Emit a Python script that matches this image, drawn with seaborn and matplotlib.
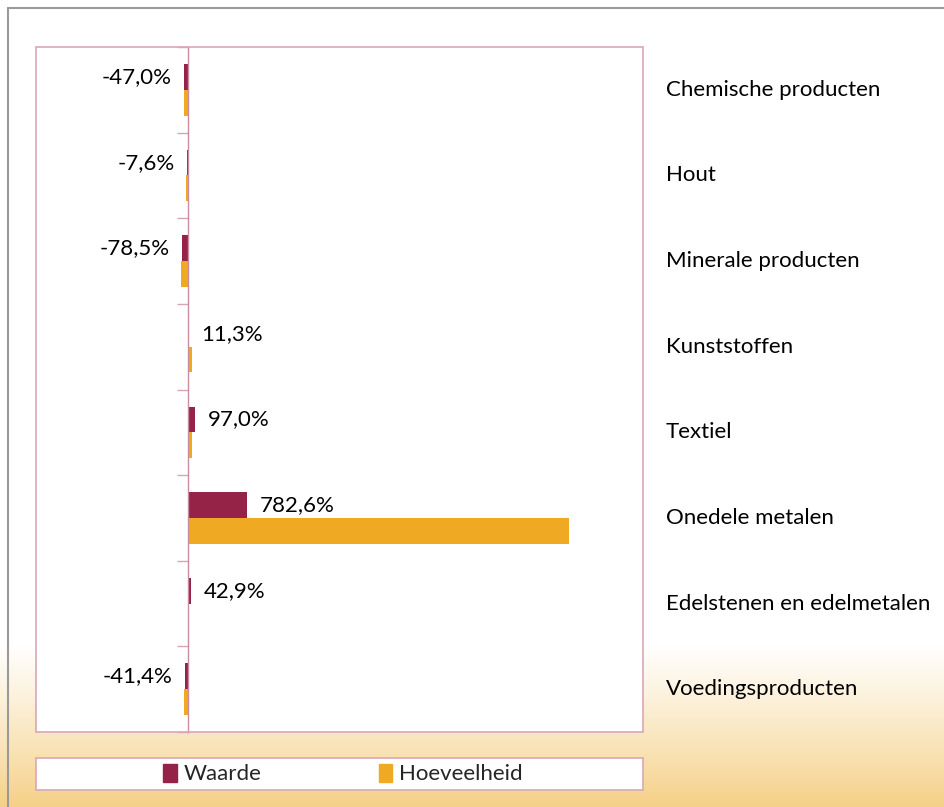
import numpy as np
import pandas as pd
import seaborn as sns
import matplotlib.pyplot as plt
from matplotlib.patches import Rectangle, Patch
from matplotlib.lines import Line2D

# data
categories = ['Chemische producten', 'Hout', 'Minerale producten', 'Kunststoffen',
              'Textiel', 'Onedele metalen', 'Edelstenen en edelmetalen', 'Voedingsproducten']
waarde = [-47.0, -7.6, -78.5, 11.3, 97.0, 782.6, 42.9, -41.4]
hoeveelheid = [-53, -22, -85, 50, 52, 5020, np.nan, -50]
series = ['Waarde', 'Hoeveelheid']

df = pd.DataFrame({
    'categorie': categories * 2,
    'reeks': ['Waarde'] * len(categories) + ['Hoeveelheid'] * len(categories),
    'waarde': waarde + hoeveelheid,
})

sns.set_style('white')
plt.rcParams['font.family'] = ['Lato', 'DejaVu Sans']
FS = 16

fig = plt.figure(figsize=(9.44, 8.07), dpi=100)

# background gradient (white top, light orange bottom)
bg = fig.add_axes([0, 0, 1, 1], zorder=-10)
rows = np.linspace(0, 1, 807)
top = np.array([1.0, 1.0, 1.0])
bot = np.array([0xF5, 0xD0, 0x86]) / 255
grad = np.array([bot + (top - bot) * (r / 0.2) ** 0.9 if r < 0.2 else top for r in rows])
bg.imshow(grad[:, None, :], aspect='auto', origin='lower', extent=[0, 1, 0, 1])
bg.set_axis_off()

# outer frame lines (left and top)
fig.add_artist(Line2D([8 / 944, 8 / 944], [0, 1 - 8 / 807], color='#9a9a9a', lw=1.5))
fig.add_artist(Line2D([8 / 944, 1], [1 - 8 / 807, 1 - 8 / 807], color='#9a9a9a', lw=1.5))

ax = fig.add_axes([36 / 944, 75 / 807, 607 / 944, 685 / 807])
ax.set_facecolor('white')
sns.barplot(data=df, y='categorie', x='waarde', hue='reeks', order=categories,
            hue_order=series, palette=['#952247', '#F0A922'], orient='h',
            width=0.6, saturation=1, legend=False, linewidth=0, ax=ax)

ax.set_xlim(-2000, 6000)
ax.set_ylim(7.5, -0.5)
ax.set_xticks([])
ax.set_xlabel('')
ax.set_ylabel('')

# category axis crossing at zero
for s in ['top', 'right', 'bottom']:
    ax.spines[s].set_visible(False)
ax.spines['left'].set_position(('data', 0))
ax.spines['left'].set_color('#C98CA2')
ax.spines['left'].set_linewidth(1)
ax.set_yticks(np.arange(-0.5, 8, 1))
ax.set_yticklabels([])
ax.tick_params(axis='y', direction='out', length=8, color='#D8A4B6', width=1, left=True)

# plot area border
ax.add_patch(Rectangle((0, 0), 1, 1, transform=ax.transAxes, fill=False,
                       edgecolor='#D9A7B9', lw=1.2, clip_on=False, zorder=5))

# value labels for Waarde
labels = [f'{v:.1f}%'.replace('.', ',') for v in waarde]
ax.bar_label(ax.containers[0], labels=labels, padding=9, fontsize=FS, color='black')

# category names to the right of the plot area
for i, name in enumerate(categories):
    ax.text((666 - 36) / 607, i, name, transform=ax.get_yaxis_transform(),
            ha='left', va='center', fontsize=FS, color='black')

# legend box
fig.add_artist(Rectangle((36 / 944, 17 / 807), 607 / 944, 32 / 807,
                         transform=fig.transFigure, facecolor='white',
                         edgecolor='#D9A7B9', lw=1.2))
handles = [Patch(color='#952247'), Patch(color='#F0A922')]
fig.legend(handles, series, loc='center', bbox_to_anchor=(343 / 944, 33 / 807),
           ncol=2, frameon=False, fontsize=FS, handlelength=0.6, handleheight=0.9,
           handletextpad=0.3, columnspacing=5.3)

fig.savefig('out.png', dpi=100)
